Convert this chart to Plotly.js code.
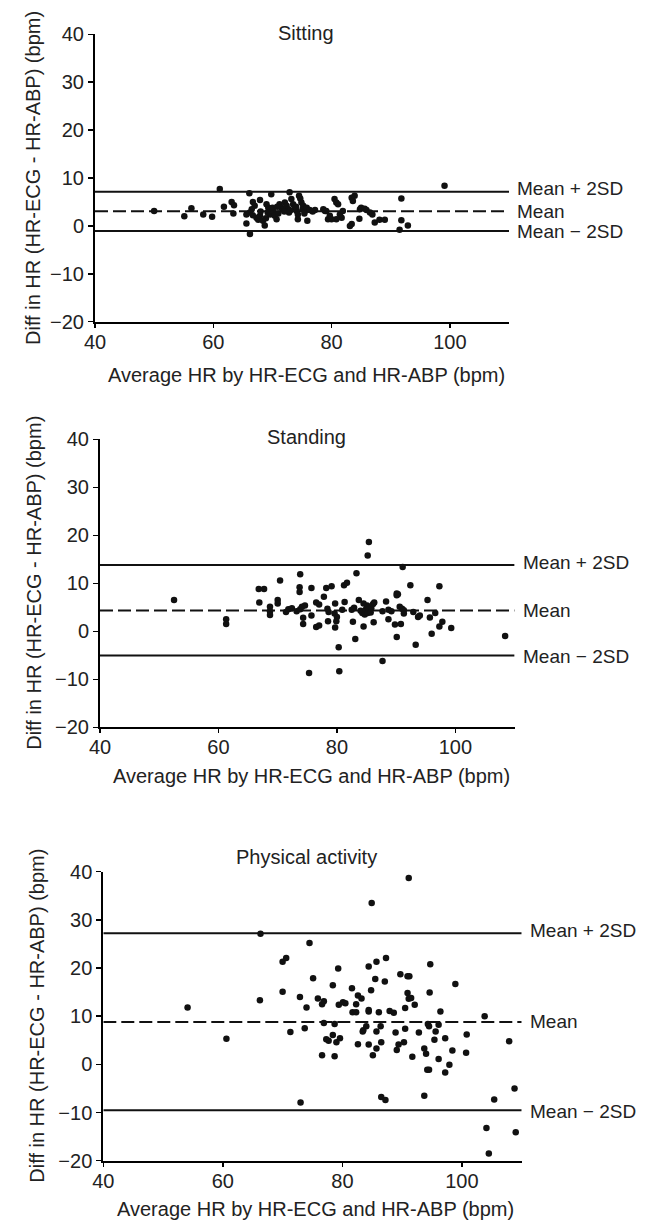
<!DOCTYPE html>
<html>
<head>
<meta charset="utf-8">
<script src="https://cdn.plot.ly/plotly-3.0.1.min.js"></script>
<style>html,body{margin:0;padding:0;background:#fff;}#chart{width:654px;height:1221px;}</style>
</head>
<body>
<div id="chart"></div>
<script>
// ---------- DATA ----------
const panelTitles = ["Sitting", "Standing", "Physical activity"];
const xAxisTitle = "Average HR by HR-ECG and HR-ABP (bpm)";
const yAxisTitle = "Diff in HR (HR-ECG - HR-ABP) (bpm)";
const limitLabels = ["Mean + 2SD", "Mean", "Mean \u2212 2SD"];
const xTickVals = [40, 60, 80, 100];
const yTickVals = [-20, -10, 0, 10, 20, 30, 40];

const sittingLimits = [7.15, 3.05, -1.05];
const standingLimits = [13.8, 4.35, -5.05];
const activityLimits = [27.2, 8.8, -9.5];

const sittingX = [50.0,55.1,56.3,58.3,59.8,61.1,61.8,63.1,63.5,63.4,65.6,66.2,66.1,
 66.7,67.9,67.0,66.5,66.2,67.3,67.6,67.9,68.4,68.7,66.7,65.6,
 69.8,69.6,70.1,70.4,70.7,69.3,69.0,70.0,
 71.2,71.5,71.8,72.1,72.4,72.7,72.9,73.2,72.8,
 73.5,73.8,74.1,74.3,74.5,74.7,74.9,75.2,75.1,75.5,75.8,74.3,75.9,
 76.3,77.2,78.6,78.9,79.1,79.4,79.7,80.5,80.8,81.1,81.4,81.7,81.9,80.8,80.0,
 83.4,83.6,83.9,83.4,83.1,84.7,84.8,85.0,85.6,85.9,86.5,86.9,87.3,88.1,89.0,
 91.8,91.8,92.9,91.5,99.1,
 68.0,69.2,71.0,72.0,73.0,74.0,75.4,76.8,68.9,70.8];
const sittingY = [3.1,2.0,3.7,2.4,1.9,7.7,4.0,5.0,4.3,2.6,0.5,-1.7,6.8,
 5.0,5.4,4.2,3.5,2.8,1.7,1.3,2.1,1.1,0.1,2.2,2.4,
 6.6,2.4,3.1,2.1,1.4,3.8,4.5,3.8,
 4.5,3.8,3.5,4.9,4.2,3.5,7.0,5.6,2.8,
 4.5,3.8,3.1,2.4,6.3,5.7,4.9,4.2,3.5,3.1,3.8,1.4,1.1,
 3.3,3.3,3.5,3.1,3.1,1.4,2.1,5.6,4.9,4.5,2.4,1.7,3.1,1.4,1.4,
 5.9,5.2,6.3,0.4,0.0,1.5,3.5,3.8,3.6,3.3,2.8,2.4,0.7,1.3,1.3,
 5.7,1.2,0.1,-0.8,8.4,
 3.0,2.8,2.6,3.0,3.2,4.0,2.6,3.0,1.6,4.0];

const standingX = [52.5,61.3,61.3,66.8,67.7,66.9,70.4,70.0,70.0,68.7,68.7,68.7,
 73.8,73.7,73.7,71.8,72.4,71.4,73.2,73.8,74.1,74.6,74.3,74.3,
 75.7,75.7,76.5,77.0,76.5,77.0,77.8,78.2,79.1,78.4,78.6,78.5,
 79.7,79.6,80.0,79.9,79.7,80.3,80.4,75.3,
 81.2,81.7,81.3,80.9,82.5,82.9,82.7,83.3,83.1,83.7,
 84.0,84.3,84.7,84.9,85.1,85.2,85.4,85.8,86.1,86.3,85.7,84.5,
 84.5,86.2,87.7,88.3,88.7,87.7,90.1,90.1,90.3,90.1,
 91.1,92.4,97.3,95.3,88.7,89.2,90.6,91.0,91.3,91.3,92.9,93.7,94.0,
 89.8,90.8,95.7,96.6,97.8,97.3,99.3,96.0,93.3,108.4,85.4,85.2];
const standingY = [6.5,2.5,1.5,8.8,8.8,6.0,10.6,6.5,5.8,5.1,4.2,3.4,
 11.9,9.2,8.2,4.6,4.8,4.0,4.2,4.6,5.1,5.4,2.8,1.5,
 9.0,3.3,0.9,1.2,6.0,5.6,7.2,9.0,9.4,4.7,4.0,2.1,
 5.8,3.7,3.0,2.1,0.8,-3.3,-8.3,-8.7,
 9.6,10.1,6.1,4.5,4.5,4.9,2.0,12.1,-1.6,6.5,
 4.3,3.8,3.5,4.6,5.4,3.8,4.6,4.8,5.7,6.0,3.9,5.8,
 1.0,1.9,4.2,6.2,2.5,-6.2,7.9,7.5,7.7,-1.2,
 13.4,9.6,9.4,6.5,4.5,4.2,5.1,4.7,4.4,3.7,4.0,3.0,3.3,
 1.4,1.5,2.85,3.8,2.0,1.0,0.7,-0.5,-2.8,-1.0,18.6,15.8];

const activityX = [54.1,60.6,66.3,66.2,70.0,70.6,70.0,74.5,71.3,73.0,75.1,72.9,74.0,73.7,
 75.9,76.6,76.9,76.9,76.6,78.4,79.3,79.4,80.1,80.5,78.7,77.3,77.7,78.4,79.0,79.6,78.7,
 91.1,84.9,84.4,85.7,87.3,85.5,87.1,81.6,84.8,82.6,83.2,82.3,81.7,82.3,84.4,84.4,86.1,87.9,88.6,
 89.7,90.9,91.2,90.9,91.1,91.5,92.1,90.5,94.7,94.6,96.4,98.9,103.8,
 84.0,83.5,83.4,86.4,85.7,88.9,90.5,92.8,94.3,94.5,96.1,95.6,100.8,
 82.6,84.4,86.5,85.7,85.1,89.4,89.1,90.3,91.7,93.7,94.0,95.4,97.2,96.1,98.4,
 94.2,94.5,97.9,97.2,100.7,107.9,86.5,87.2,93.7,108.8,105.4,104.1,109.0,104.5];
const activityY = [11.8,5.3,27.1,13.3,21.3,22.1,15.1,25.2,6.7,-7.9,17.9,14.0,11.8,7.5,
 13.7,12.5,13.1,8.6,1.9,16.4,19.9,12.4,12.9,12.7,8.4,5.2,4.9,6.1,4.6,5.4,1.7,
 38.7,33.5,20.3,21.3,22.1,17.7,17.2,15.8,15.4,14.3,13.7,12.5,10.8,10.8,11.0,11.3,10.8,11.1,10.7,
 18.7,18.3,18.3,14.8,13.6,13.8,12.4,11.7,20.8,14.9,11.0,16.7,10.0,
 7.9,7.1,6.8,7.9,6.8,6.6,7.4,6.6,8.4,7.9,8.2,6.8,6.2,
 4.2,4.1,4.6,3.3,1.9,4.1,3.0,4.6,1.6,3.3,2.2,5.1,5.4,1.1,2.9,
 -1.1,-1.1,-0.1,-1.7,2.4,4.8,-6.8,-7.4,-6.5,-5.0,-7.3,-13.2,-14.1,-18.5];

// ---------- LAYOUT GEOMETRY (pixels) ----------
const W = 654, H = 1221;
const FONT = "Liberation Sans, Arial, Helvetica, sans-serif";
const panels = [
  {xs: sittingX, ys: sittingY, lim: sittingLimits, left: 95, right: 509, top: 34.3, bottom: 321.7,
   titleX: 306, titleY: 33, yTitleX: 33, xTitleX: 306, xTitleY: 375},
  {xs: standingX, ys: standingY, lim: standingLimits, left: 100, right: 514.6, top: 439.3, bottom: 727.3,
   titleX: 306, titleY: 437, yTitleX: 34.5, xTitleX: 311, xTitleY: 776},
  {xs: activityX, ys: activityY, lim: activityLimits, left: 103.3, right: 521.7, top: 871.7, bottom: 1160.7,
   titleX: 306, titleY: 857, yTitleX: 37.5, xTitleX: 315, xTitleY: 1209}
];

const traces = [];
const annotations = [];
const layout = {
  width: W, height: H,
  margin: {l: 0, r: 0, t: 0, b: 0},
  paper_bgcolor: "#fff", plot_bgcolor: "#fff",
  showlegend: false,
  font: {family: FONT, size: 20, color: "#000"}
};

panels.forEach((p, i) => {
  const n = i === 0 ? "" : String(i + 1);
  const xa = "x" + n, ya = "y" + n;
  layout["xaxis" + n] = {
    domain: [p.left / W, p.right / W],
    anchor: ya, range: [40, 110],
    tickvals: xTickVals, ticks: "outside", ticklen: 4, tickwidth: 1.5, tickcolor: "#000",
    ticklabelstandoff: -3,
    showline: true, linecolor: "#000", linewidth: 2,
    showgrid: false, zeroline: false,
    tickfont: {family: FONT, size: 20, color: "#222"}
  };
  layout["yaxis" + n] = {
    domain: [1 - p.bottom / H, 1 - p.top / H],
    anchor: xa, range: [-20, 40],
    tickvals: yTickVals, ticks: "outside", ticklen: 5, tickwidth: 1.5, tickcolor: "#000",
    showline: true, linecolor: "#000", linewidth: 2,
    showgrid: false, zeroline: false,
    tickfont: {family: FONT, size: 20, color: "#222"}
  };
  // limit lines
  p.lim.forEach((v, k) => {
    traces.push({
      x: [40, 110], y: [v, v], xaxis: xa, yaxis: ya,
      mode: "lines", hoverinfo: "skip",
      line: {color: "#111", width: 2, dash: k === 1 ? "13px,5px" : "solid"}
    });
    annotations.push({
      xref: xa, yref: ya, x: 110, y: v, text: limitLabels[k],
      xanchor: "left", yanchor: "middle", xshift: 6, yshift: k === 0 ? 3 : (k === 2 ? -1 : 0),
      showarrow: false,
      font: {family: FONT, size: 19, color: "#222"}
    });
  });
  // points
  traces.push({
    x: p.xs, y: p.ys, xaxis: xa, yaxis: ya,
    mode: "markers", cliponaxis: false,
    marker: {color: "#111", size: 6.5}
  });
  // panel title
  annotations.push({
    xref: "paper", yref: "paper", x: p.titleX / W, y: 1 - p.titleY / H,
    text: panelTitles[i], xanchor: "center", yanchor: "middle", showarrow: false,
    font: {family: FONT, size: 20, color: "#222"}
  });
  // y title
  annotations.push({
    xref: "paper", yref: "paper", x: p.yTitleX / W, y: 1 - (p.top + p.bottom) / 2 / H,
    text: yAxisTitle, textangle: -90, xanchor: "center", yanchor: "middle", showarrow: false,
    font: {family: FONT, size: 20, color: "#222"}
  });
  // x title
  annotations.push({
    xref: "paper", yref: "paper", x: p.xTitleX / W, y: 1 - p.xTitleY / H,
    text: xAxisTitle, xanchor: "center", yanchor: "middle", showarrow: false,
    font: {family: FONT, size: 20, color: "#222"}
  });
});
layout.annotations = annotations;

Plotly.newPlot("chart", traces, layout, {staticPlot: true, displayModeBar: false});
</script>
</body>
</html>
